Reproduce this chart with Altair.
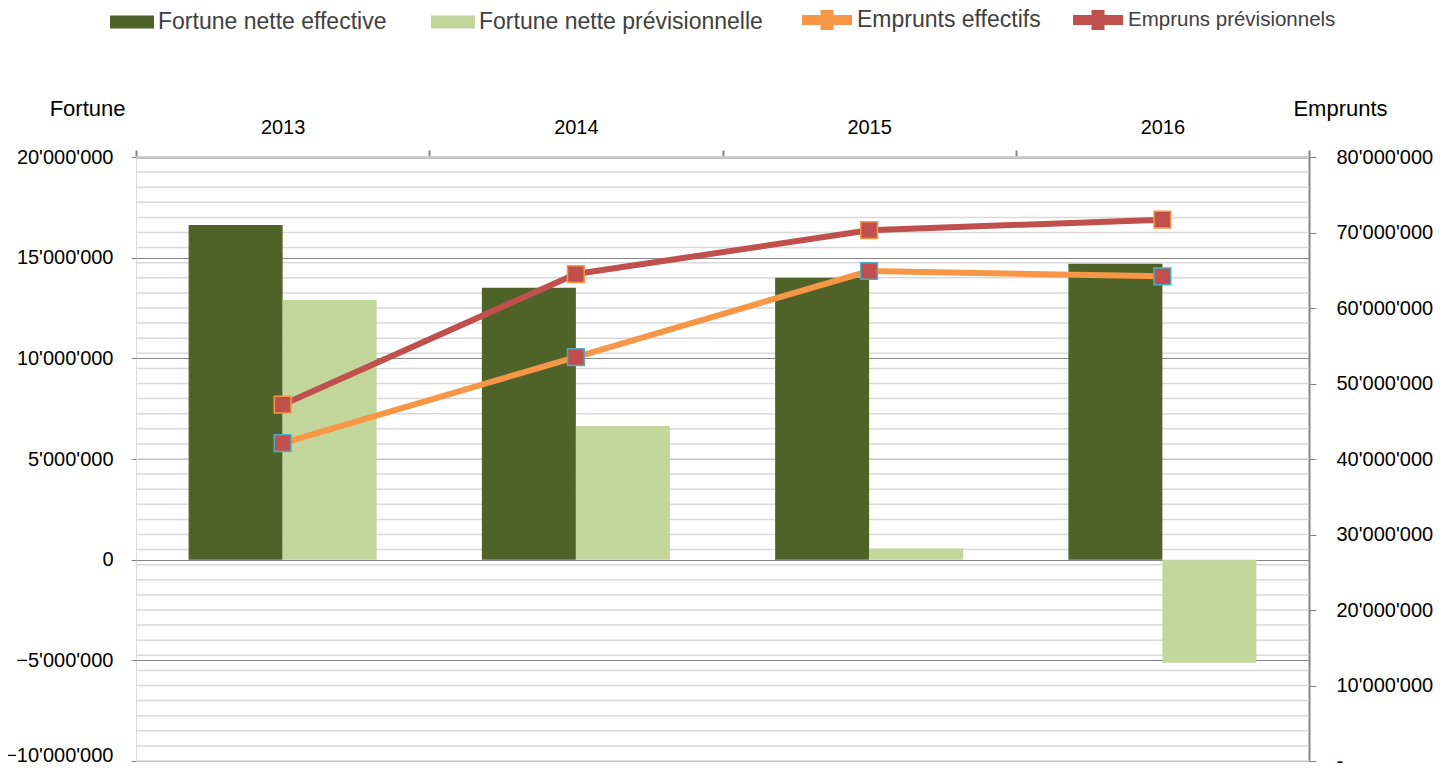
import altair as alt
import pandas as pd

# ---- data ----
annees = ["2013", "2014", "2015", "2016"]
fortune_effective = [16620000, 13500000, 14000000, 14700000]
fortune_previsionnelle = [12900000, 6640000, 550000, -5120000]
emprunts_effectifs = [42100000, 53500000, 64900000, 64200000]
emprunts_previsionnels = [47200000, 64500000, 70300000, 71700000]

series_fortune = ["Fortune nette effective", "Fortune nette prévisionnelle"]
series_emprunts = ["Emprunts effectifs", "Empruns prévisionnels"]

left_ticks = [-10000000, -5000000, 0, 5000000, 10000000, 15000000, 20000000]
right_ticks = [0, 10000000, 20000000, 30000000, 40000000, 50000000, 60000000, 70000000, 80000000]
right_minor = list(range(0, 80000001, 2000000))

FONT = "Liberation Sans"
GRID_DARK = "#868686"
GRID_LIGHT = "#d9d9d9"

bars_df = pd.DataFrame({
    "annee": annees * 2,
    "serie": [series_fortune[0]] * 4 + [series_fortune[1]] * 4,
    "valeur": fortune_effective + fortune_previsionnelle,
})
lines_df = pd.DataFrame({
    "annee": annees * 2,
    "serie": [series_emprunts[0]] * 4 + [series_emprunts[1]] * 4,
    "valeur": emprunts_effectifs + emprunts_previsionnels,
})
minor_df = pd.DataFrame({"v": right_minor})

fmt = "replace(format(datum.value, ','), /,/g, \"'\")"

x_enc = alt.X(
    "annee:N", sort=annees, title=None,
    scale=alt.Scale(paddingInner=0, paddingOuter=0),
    axis=alt.Axis(orient="top", labelAngle=0, labelFont=FONT, labelFontSize=20,
                  labelColor="#000000", labelPadding=13, tickBand="extent",
                  tickSize=7, tickColor=GRID_DARK, tickWidth=2,
                  domainColor=GRID_DARK, domainWidth=2, grid=False),
)

right_scale = alt.Scale(domain=[0, 80000000], nice=False, zero=False)

grid_layer = alt.Chart(minor_df).mark_rule(color=GRID_LIGHT, strokeWidth=1.5).encode(
    y=alt.Y("v:Q", scale=right_scale, axis=None)
)

bars = alt.Chart(bars_df).mark_bar().encode(
    x=x_enc,
    xOffset=alt.XOffset("serie:N", sort=series_fortune,
                        scale=alt.Scale(paddingInner=0, paddingOuter=0.56)),
    y=alt.Y("valeur:Q",
            scale=alt.Scale(domain=[-10000000, 20000000], nice=False),
            axis=alt.Axis(orient="left", values=left_ticks, labelExpr=fmt,
                          labelFont=FONT, labelFontSize=20, labelColor="#000000",
                          labelPadding=18, tickSize=5, tickColor=GRID_DARK,
                          labelBaseline={"condition": {"test": "datum.value == -10000000",
                                                       "value": "alphabetic"},
                                         "value": "middle"},
                          domain=False, grid=True, gridColor=GRID_DARK, gridWidth=1,
                          title="Fortune", titleAngle=0, titleFont=FONT,
                          titleFontSize=22, titleFontWeight="normal",
                          titleColor="#000000", titleAlign="right",
                          titleBaseline="middle", titleX=-11, titleY=-49)),
    fill=alt.Fill("serie:N",
                  scale=alt.Scale(domain=series_fortune, range=["#4f6228", "#c3d69b"]),
                  legend=alt.Legend(title=None, orient="none", direction="horizontal",
                                    legendX=-26, legendY=-157,
                                    symbolType="M-1,-0.3H1V0.3H-1Z", symbolSize=1936,
                                    symbolStrokeWidth=0, labelLimit=0,
                                    labelFont=FONT, labelFontSize=23,
                                    labelColor="#404040", labelOffset=4,
                                    columnPadding=44, padding=0)),
)

lines = alt.Chart(lines_df).mark_line(strokeWidth=6).encode(
    x=x_enc,
    y=alt.Y("valeur:Q", scale=right_scale,
            axis=alt.Axis(orient="right", values=right_ticks,
                          labelExpr="datum.value == 0 ? '-' : " + fmt,
                          labelFont=FONT, labelFontSize=20, labelColor="#000000",
                          labelPadding=20, tickSize=7, tickColor=GRID_DARK,
                          domainColor=GRID_DARK, domainWidth=2, grid=False,
                          title="Emprunts", titleAngle=0, titleFont=FONT,
                          titleFontSize=22, titleFontWeight="normal",
                          titleColor="#000000", titleAlign="center",
                          titleBaseline="middle", titleX=31, titleY=-49)),
    stroke=alt.Stroke("serie:N",
                      scale=alt.Scale(domain=series_emprunts, range=["#f79646", "#c0504d"]),
                      legend=alt.Legend(title=None, orient="none", direction="horizontal",
                                        legendX=661, legendY=-167,
                                        symbolType="M-1,0H1M-0.06,-0.2H0.06V0.2H-0.06Z",
                                        symbolSize=2500, symbolStrokeWidth=10,
                                        labelLimit=0,
                                        labelFont=FONT,
                                        labelFontSize=alt.ExprRef(
                                            "datum.label == 'Empruns prévisionnels' ? 20.5 : 23"),
                                        labelColor="#404040", labelOffset=0,
                                        columnPadding=12, padding=0)),
    order=alt.Order("annee:N"),
)

marker_eff = alt.Chart(lines_df).transform_filter(
    alt.datum.serie == series_emprunts[0]
).mark_square(size=280, fill="#c0504d", stroke="#4bacc6", strokeWidth=1.5, opacity=1).encode(
    x=x_enc,
    y=alt.Y("valeur:Q", scale=right_scale, axis=None),
)
marker_prev = alt.Chart(lines_df).transform_filter(
    alt.datum.serie == series_emprunts[1]
).mark_square(size=280, fill="#c0504d", stroke="#f79646", strokeWidth=1.5, opacity=1).encode(
    x=x_enc,
    y=alt.Y("valeur:Q", scale=right_scale, axis=None),
)

chart = alt.layer(grid_layer, bars, lines, marker_eff, marker_prev).resolve_scale(
    y="independent"
).properties(
    width=1173, height=604,
    autosize=alt.AutoSizeParams(type="none"),
    padding={"left": 128, "top": 149, "right": 139, "bottom": 3},
).configure_view(
    stroke=GRID_LIGHT, strokeWidth=11
).configure(background="white")

chart.save("out.html", embed_options={"renderer": "svg", "actions": False})
